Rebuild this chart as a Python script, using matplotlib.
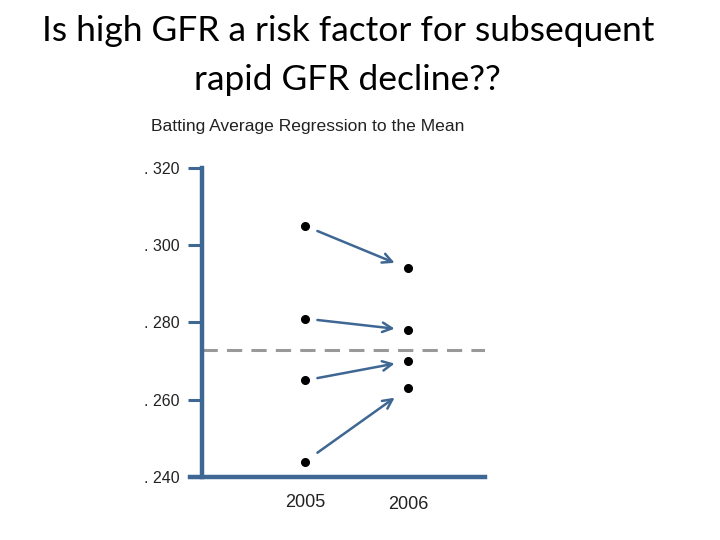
import matplotlib
matplotlib.use("Agg")
import matplotlib.pyplot as plt

# values
years = ["2005", "2006"]
avg_2005 = [0.305, 0.281, 0.265, 0.244]
avg_2006 = [0.294, 0.278, 0.270, 0.263]
league_mean = 0.273
y_ticks = [0.240, 0.260, 0.280, 0.300, 0.320]
y_labels = [". 240", ". 260", ". 280", ". 300", ". 320"]

BLUE = "#3f6794"

fig = plt.figure(figsize=(7.2, 5.4), dpi=100)
fig.patch.set_facecolor("white")

fig.text(0.483, 0.942, "Is high GFR a risk factor for subsequent",
         ha="center", va="center", fontsize=25.5, family="Lato")
fig.text(0.483, 0.852, "rapid GFR decline??",
         ha="center", va="center", fontsize=25.5, family="Lato")
fig.text(0.21, 0.765, "Batting Average Regression to the Mean",
         ha="left", va="center", fontsize=12.6, family="Liberation Sans",
         color="#222222")

ax = fig.add_axes([0.2806, 0.1167, 0.674 - 0.2806, 0.689 - 0.1167])
xs = [1, 2]
ax.set_xlim(0.0, 2.75)
ax.set_ylim(0.240, 0.320)

for s in ["top", "right"]:
    ax.spines[s].set_visible(False)
for s in ["left", "bottom"]:
    ax.spines[s].set_color(BLUE)
    ax.spines[s].set_linewidth(3.2)
ax.spines["bottom"].set_bounds(-0.12, 2.75)
ax.spines["left"].set_bounds(0.240, 0.320)

ax.set_yticks(y_ticks)
ax.set_yticklabels(y_labels, fontsize=11.5, family="Liberation Sans",
                   color="#222222")
ax.tick_params(axis="y", length=10, width=2.2, color=BLUE, pad=6)
ax.set_xticks([])

ax.axhline(league_mean, color="#999999", lw=2.2, ls=(0, (5, 3)), zorder=1)

ax.plot([xs[0]] * len(avg_2005), avg_2005, "o", color="black", ms=5.5,
        zorder=3)
ax.plot([xs[1]] * len(avg_2006), avg_2006, "o", color="black", ms=5.5,
        zorder=3)

for a, b in zip(avg_2005, avg_2006):
    t0, t1 = 0.12, 0.87
    x0 = xs[0] + (xs[1] - xs[0]) * t0
    y0 = a + (b - a) * t0
    x1 = xs[0] + (xs[1] - xs[0]) * t1
    y1 = a + (b - a) * t1
    ax.annotate("", xy=(x1, y1), xytext=(x0, y0),
                arrowprops=dict(arrowstyle="->", color=BLUE, lw=1.8,
                                mutation_scale=17, shrinkA=0, shrinkB=0))

ax.text(xs[0], 0.2335, years[0], ha="center", va="center", fontsize=13,
        family="Liberation Sans", color="#222222")
ax.text(xs[1], 0.2328, years[1], ha="center", va="center", fontsize=13,
        family="Liberation Sans", color="#222222")

fig.savefig("out.png", dpi=100)
